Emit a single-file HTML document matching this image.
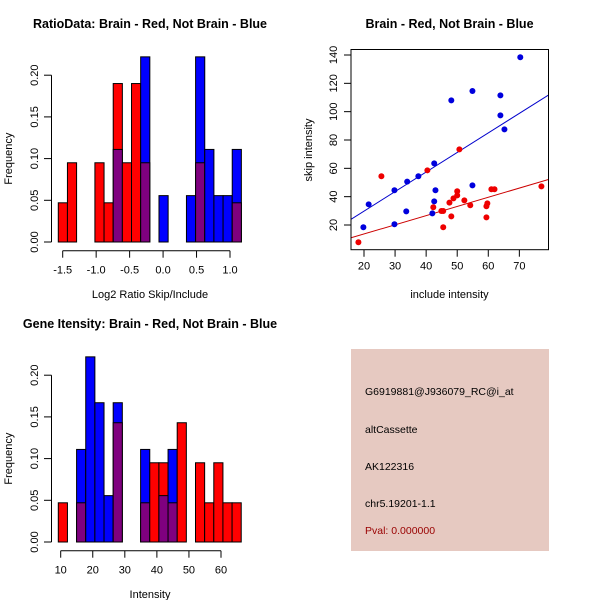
<!DOCTYPE html>
<html><head><meta charset="utf-8"><style>
body{margin:0;background:#fff}
svg{display:block;font-family:"Liberation Sans",sans-serif}
</style></head><body>
<svg id="c" width="600" height="600" viewBox="0 0 600 600"></svg>
<script>
// ---- data ----
const ratioRed  = [0.047,0.095,0,0,0.095,0.047,0.19,0.095,0.19,0.095,0,0,0,0,0,0.095,0,0,0,0.047];
const ratioBlue = [0,0,0,0,0,0,0.111,0,0,0.222,0,0.0556,0,0,0.0556,0.222,0.111,0.0556,0.0556,0.111];
const ratioStart = -1.566, ratioWidth = 0.1368;
const ratioTicks = [-1.5,-1.0,-0.5,0.0,0.5,1.0];
const ratioTickLabels = ["-1.5","-1.0","-0.5","0.0","0.5","1.0"];
const intRed  = [0.047,0,0.047,0,0,0,0.143,0,0,0.047,0.095,0.095,0.047,0.143,0,0.095,0.047,0.095,0.047,0.047];
const intBlue = [0,0,0.111,0.222,0.167,0.0556,0.167,0,0,0.111,0,0.0556,0.111,0,0,0,0,0,0,0];
const intStart = 9.25, intWidth = 2.853;
const intTicks = [10,20,30,40,50,60];
const freqTicks = [0,0.05,0.10,0.15,0.20];
const freqTickLabels = ["0.00","0.05","0.10","0.15","0.20"];
const blueX = [19.8,21.5,29.8,29.8,33.6,33.9,37.5,42.0,42.6,42.6,43.0,48.1,54.9,54.9,63.9,63.9,65.2,70.3];
const blueY = [18.4,34.6,20.5,44.5,29.6,50.6,54.4,28.2,36.7,63.5,44.5,108.0,48.0,114.6,97.4,111.5,87.5,138.4];
const redX = [18.2,25.6,40.4,42.3,44.9,45.5,45.5,47.5,48.1,48.8,50.0,50.0,50.7,52.3,54.2,59.4,59.4,59.7,61.0,62.0,77.1];
const redY = [7.8,54.4,58.6,32.5,29.9,29.9,18.4,35.8,26.1,38.8,40.9,43.8,73.4,37.4,33.9,33.2,25.4,35.3,45.2,45.2,47.3];
const blueFit = [2.2,1.38];
const redFit = [0.7,0.648];
const scXTicks = [20,30,40,50,60,70];
const scYTicks = [20,40,60,80,100,120,140];

const NS="http://www.w3.org/2000/svg", svg=document.getElementById('c');
function el(tag,attrs,parent){const e=document.createElementNS(NS,tag);for(const k in attrs)e.setAttribute(k,attrs[k]);(parent||svg).appendChild(e);return e;}
function txt(s,x,y,opts,parent){const t=el('text',Object.assign({x:x,y:y,'font-size':11,'text-anchor':'middle',fill:'#000'},opts||{}),parent);t.textContent=s;return t;}

function hist(gname,red,blue,start,width,ticks,tlabels,y0,xpx0,xpx1,xv0,xv1,title,xlabel){
  const g=el('g',{});
  
  
  const sx=v=>xpx0+(v-xv0)*(xpx1-xpx0)/(xv1-xv0);
  const sy=v=>y0-v*834;
  for(let i=0;i<red.length;i++){
    const a=start+i*width,b=a+width;
    const r=red[i],bl=blue[i];
    const mx=Math.max(r,bl),mn=Math.min(r,bl);
    if(mx>0){
      const rc=el('rect',{x:sx(a),y:sy(mx),width:sx(b)-sx(a),height:sy(0)-sy(mx),fill:r>=bl?'#ff0000':'#0000ff',stroke:'#000','stroke-width':1},g);
      
      
    }
    if(mn>0){
      const pc=el('rect',{x:sx(a),y:sy(mn),width:sx(b)-sx(a),height:sy(0)-sy(mn),fill:'#7f007f',stroke:'#000','stroke-width':1},g);
      
      
    }
  }
  const ya=el('g',{},g);
  
  
  el('line',{x1:51.5,x2:51.5,y1:sy(0),y2:sy(0.2),stroke:'#000'},ya);
  freqTicks.forEach((v,i)=>{el('line',{x1:44,x2:51.5,y1:sy(v),y2:sy(v),stroke:'#000'},ya);
    txt(freqTickLabels[i],0,0,{transform:`translate(38,${sy(v)}) rotate(-90)`},ya);});
  const yl=txt('Frequency',0,0,{transform:`translate(12,${sy(0.1)}) rotate(-90)`,'font-size':11},g);
  
  
  const xa=el('g',{},g);
  
  
  const ay=y0+8.7;
  el('line',{x1:sx(ticks[0]),x2:sx(ticks[ticks.length-1]),y1:ay,y2:ay,stroke:'#000'},xa);
  ticks.forEach((v,i)=>{el('line',{x1:sx(v),x2:sx(v),y1:ay,y2:ay+7,stroke:'#000'},xa);
    txt(tlabels[i],sx(v),ay+23,{},xa);});
  const xl=txt(xlabel,150,y0+56,{},g);
  
  
  const tt=txt(title,150,y0-214,{'font-weight':'bold','font-size':12.5},g);
  
  
}
hist('ratio-histogram',ratioRed,ratioBlue,ratioStart,ratioWidth,ratioTicks,ratioTickLabels,242,62.7,230,-1.5,1.0,'RatioData: Brain - Red, Not Brain - Blue','Log2 Ratio Skip/Include');
hist('intensity-histogram',intRed,intBlue,intStart,intWidth,intTicks,intTicks.map(String),542,60.7,221,10,60,'Gene Itensity: Brain - Red, Not Brain - Blue','Intensity');

(function(){
  const g=el('g',{});
  
  
  const L=351,R=548.5,T=49.5,B=249.7;
  const sx=v=>364+(v-20)*3.107, sy=v=>225-(v-20)*1.4167;
  const ix=p=>20+(p-364)/3.107;
  const cp=el('clipPath',{id:'clip'},g);el('rect',{x:L,y:T,width:R-L,height:B-T},cp);
  [[blueFit,'#0000cc','blue-fit-line'],[redFit,'#cc0000','red-fit-line']].forEach(([f,c,n])=>{
    const x0=ix(L),x1=ix(R);
    const ln=el('line',{x1:L,x2:R,y1:sy(f[0]+f[1]*x0),y2:sy(f[0]+f[1]*x1),stroke:c,'clip-path':'url(#clip)'},g);
    
    
  });
  blueX.forEach((x,i)=>{const c=el('circle',{cx:sx(x),cy:sy(blueY[i]),r:3,fill:'#0000dd'},g);
    
    });
  redX.forEach((x,i)=>{const c=el('circle',{cx:sx(x),cy:sy(redY[i]),r:3,fill:'#ee0000'},g);
    
    });
  const bx=el('rect',{x:L,y:T,width:R-L,height:B-T,fill:'none',stroke:'#000'},g);
  
  
  scXTicks.forEach(v=>{el('line',{x1:sx(v),x2:sx(v),y1:B,y2:B+7,stroke:'#000'},g);txt(String(v),sx(v),B+20,{},g);});
  scYTicks.forEach(v=>{el('line',{x1:L-7,x2:L,y1:sy(v),y2:sy(v),stroke:'#000'},g);txt(String(v),0,0,{transform:`translate(337,${sy(v)}) rotate(-90)`},g);});
  const xl=txt('include intensity',449.5,298,{},g);
  
  
  const yl=txt('skip intensity',0,0,{transform:`translate(312,150) rotate(-90)`},g);
  
  
  const tt=txt('Brain - Red, Not Brain - Blue',449.5,28,{'font-weight':'bold','font-size':12.5},g);
  
  
})();
</script>
<div style="position:absolute;left:351px;top:349px;width:198px;height:202px;background:#e6c9c1;font-family:'Liberation Sans',sans-serif;font-size:10.5px;">
  <div style="position:absolute;left:14px;top:37px">G6919881@J936079_RC@i_at</div>
  <div style="position:absolute;left:14px;top:75px">altCassette</div>
  <div style="position:absolute;left:14px;top:112px">AK122316</div>
  <div style="position:absolute;left:14px;top:149px">chr5.19201-1.1</div>
  <div style="position:absolute;left:14px;top:176px;color:#990000">Pval: 0.000000</div>
</div>
</body></html>
